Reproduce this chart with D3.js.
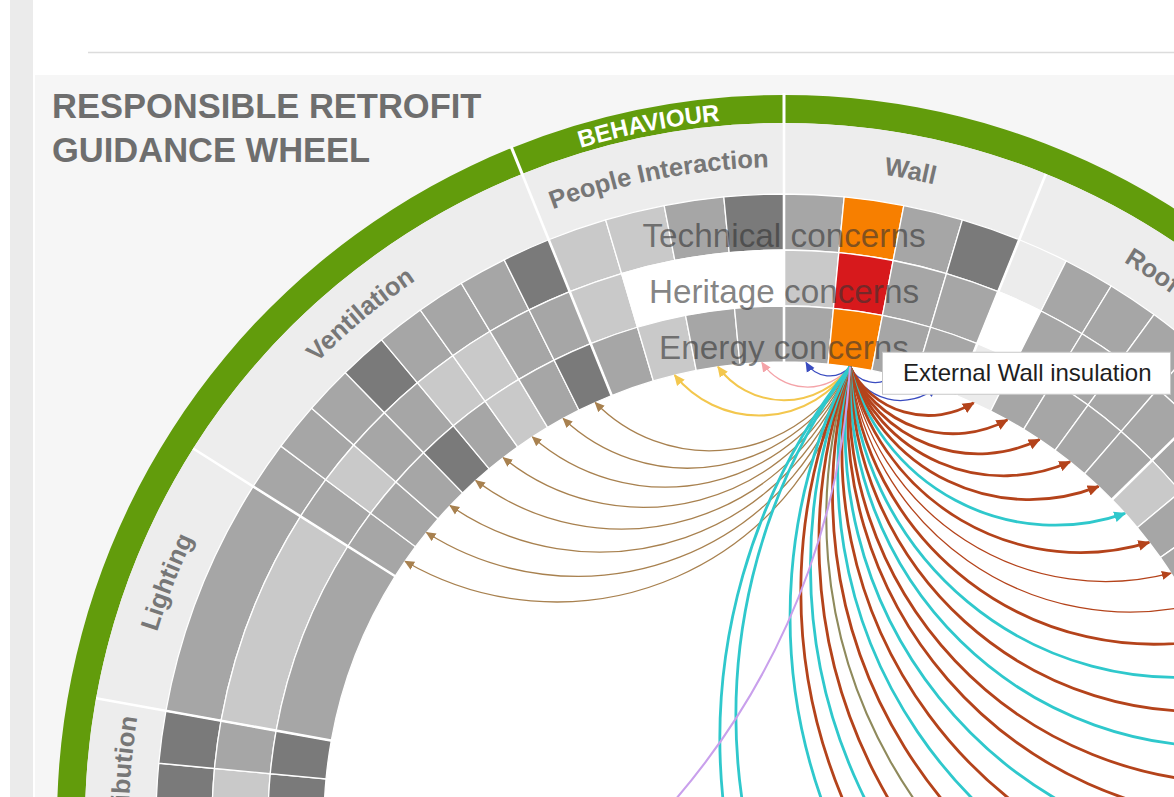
<!DOCTYPE html>
<html>
<head>
<meta charset="utf-8">
<script src="https://cdn.jsdelivr.net/npm/d3@7/dist/d3.min.js"></script>
<style>
  html, body { margin:0; padding:0; background:#fff; overflow:hidden; }
  svg { display:block; font-family: "Liberation Sans", Arial, Helvetica, sans-serif; }
</style>
</head>
<body>
<svg id="chart" width="1174" height="797"></svg>
<script>
// ---------------- data ----------------
const titleLines = ["RESPONSIBLE RETROFIT", "GUIDANCE WHEEL"];
const groupNames = ["BEHAVIOUR", "", ""];
const segmentNames = ["People Interaction","Wall","Roof","","","","","","","","","","","Distribution","Lighting","Ventilation"];
const segmentGroup = [0,1,1,1,1,1,1,1,1,1,1,2,2,2,2,2];
const segmentWeight = [22,22,23.5,23.5,23,23,23,23,23,18,23,23,17.7,14.5,22.1,35.7];
const ringNames = ["Technical concerns","Heritage concerns","Energy concerns"];

// risk level of each measure (0 none ... 4 high), measures listed clockwise inside each segment
const technicalRisk = [
  [2,2,3,4], [3,3,3,4], [1,3,3,3,3], [3,3,3,3,3], [3,3,3,3,3], [3,3,3,3,3], [3,3,3,3,3], [3,3,3,3,3],
  [3,3,3,3,3], [3,3,3,3], [3,3,3,3,3], [3,3,3,3,3], [3,3,3,3], [3,4,4], [3], [3,3,3,4,3,3,3,4]
];
const heritageRisk = [
  [2,0,0,0], [2,4,3,3], [0,3,3,3,3], [3,3,3,3,3], [3,3,3,3,3], [3,3,3,3,3], [3,3,3,3,3], [3,3,3,3,3],
  [3,3,3,3,3], [3,3,3,3], [3,3,3,3,3], [3,3,3,3,3], [3,3,3,3], [3,2,3], [2], [3,2,3,3,2,2,3,3]
];
const energyRisk = [
  [3,2,3,3], [3,3,3,3], [1,3,3,3,3], [2,3,3,3,3], [3,3,3,3,3], [3,3,3,3,3], [3,3,3,3,3], [3,3,3,3,3],
  [3,3,3,3,3], [3,3,3,3], [3,3,3,3,3], [3,3,3,3,3], [3,3,3,3], [3,4,4], [3], [3,3,3,4,3,2,3,4]
];

const selectedSegment = 1;
const selectedItem = 1;
const selectedLabel = "External Wall insulation";

// links from the selected measure
const linkSegment = [0,0,0, 1,1,1, 15,15,15,15,15,15,15,15, 2,2,2,2,2, 3,3,3,3,3, 4,4,4,4,4, 5,5,5,5,5, 6,6,6,6, 7,7, 11];
const linkItem    = [3,2,1, 0,2,3, 0,1,2,3,4,5,6,7,          0,1,2,3,4, 0,1,2,3,4, 0,1,2,3,4, 0,1,2,3,4, 0,1,2,3, 2,3, 4];
const linkType    = ["pink","yellow","yellow", "blue","blue","blue",
  "brown","brown","brown","brown","brown","brown","brown","brown",
  "rust","rust","rust","rust","rust",
  "cyan","rust","rust","rust","rust",
  "cyan","rust","cyan","rust","rust",
  "cyan","rust","cyan","rust","olive",
  "rust","cyan","rust","cyan",
  "cyan","cyan",
  "lilac"];
const linkWeight  = [1,2,2, 1,1,1, 1,1,1,1,1,1,1,1, 3,3,3,3,3, 3,3,1,1,3, 3,3,3,3,3, 3,3,3,3,2, 3,3,3,3, 3,3, 2];

// ---------------- styles ----------------
const W = 1174, H = 797;
const cx = 784, cy = 822;
const deg = Math.PI / 180;
const rInner = 460, ringEdges = [628, 572, 516, 460];
const rBandOuter = 699, rGreenOuter = 727;
const startDeg = -22;

const gray = d3.scaleOrdinal().domain([0,1,2,3,4]).range(["#ffffff","#ececec","#c9c9c9","#a6a6a6","#7a7a7a"]);
const highlight = d3.scaleOrdinal().domain([3,4]).range(["#f77f00","#d7191c"]);
const linkColor = d3.scaleOrdinal()
  .domain(["pink","yellow","blue","brown","rust","cyan","olive","lilac"])
  .range(["#f4a3a8","#f3c74e","#3a4cc0","#a8814f","#b4431b","#2fc8cc","#8f8a5c","#c9a0ec"]);
const linkWidth = d3.scaleOrdinal().domain([1,2,3]).range([1.3,2.1,2.8]);
const arrowSize = d3.scaleOrdinal().domain([1,2,3]).range([10,11,12]);
const linkBend = t => t === "lilac" ? 0.9 : (["brown","yellow","pink","blue"].includes(t) ? 0.62 : 0.68);

// ---------------- drawing ----------------
const svg = d3.select("#chart");
const defs = svg.append("defs");

svg.append("rect").attr("width", W).attr("height", H).attr("fill", "#fff");
svg.append("rect").attr("x", 10).attr("y", 0).attr("width", 23).attr("height", H).attr("fill", "#ebebeb");
svg.append("rect").attr("x", 35).attr("y", 75).attr("width", W - 35).attr("height", H - 75).attr("fill", "#f6f6f6");
svg.append("line").attr("x1", 88).attr("x2", W).attr("y1", 52.5).attr("y2", 52.5)
  .attr("stroke", "#dcdcdc").attr("stroke-width", 1.5);

// title
svg.append("text").attr("x", 52).attr("y", 118).attr("fill", "#6e6e6e")
  .style("font-size", "34.5px").style("font-weight", "bold")
  .selectAll("tspan").data(titleLines).join("tspan")
  .attr("x", 52).attr("dy", (d, i) => i ? 44 : 0).text(d => d);

const root = svg.append("g").attr("transform", `translate(${cx},${cy})`);

// angle scale
const ends = d3.cumsum(segmentWeight);
const angle = d3.scaleLinear().domain([0, d3.sum(segmentWeight)]).range([startDeg * deg, (startDeg + 360) * deg]);
const segs = segmentNames.map((name, i) => ({
  name, i, group: segmentGroup[i],
  a0: angle(ends[i] - segmentWeight[i]), a1: angle(ends[i])
}));

const items = [];
segs.forEach(s => {
  const n = technicalRisk[s.i].length;
  const sub = d3.scaleLinear().domain([0, n]).range([s.a0, s.a1]);
  for (let j = 0; j < n; j++) {
    items.push({ seg: s.i, j, a0: sub(j), a1: sub(j + 1),
      vals: [technicalRisk[s.i][j], heritageRisk[s.i][j], energyRisk[s.i][j]] });
  }
});

const arc = d3.arc();
const pt = (a, r) => [r * Math.sin(a), -r * Math.cos(a)];

// inner white disc
root.append("circle").attr("r", rInner).attr("fill", "#fff");

// green group band
const groups = groupNames.map((name, g) => {
  const ss = segs.filter(s => s.group === g);
  return { name, g, a0: d3.min(ss, s => s.a0), a1: d3.max(ss, s => s.a1) };
});
root.selectAll("path.group").data(groups).join("path").attr("class", "group")
  .attr("d", d => arc({ innerRadius: rBandOuter, outerRadius: rGreenOuter, startAngle: d.a0, endAngle: d.a1 }))
  .attr("fill", "#629c0c");

// label band
root.selectAll("path.band").data(segs).join("path").attr("class", "band")
  .attr("d", d => arc({ innerRadius: ringEdges[0], outerRadius: rBandOuter, startAngle: d.a0, endAngle: d.a1 }))
  .attr("fill", "#ededed");

// cells
const cells = [];
items.forEach(it => it.vals.forEach((v, k) => cells.push({ it, v, k })));
root.selectAll("path.cell").data(cells).join("path").attr("class", "cell")
  .attr("d", d => arc({ innerRadius: ringEdges[d.k + 1], outerRadius: ringEdges[d.k], startAngle: d.it.a0, endAngle: d.it.a1 }))
  .attr("fill", d => (d.it.seg === selectedSegment && d.it.j === selectedItem) ? highlight(d.v) : gray(d.v))
  .attr("stroke", "#fff").attr("stroke-width", 1.3);

// segment separators
root.selectAll("line.sep").data(segs).join("line").attr("class", "sep")
  .attr("x1", d => pt(d.a0, rInner - 1)[0]).attr("y1", d => pt(d.a0, rInner - 1)[1])
  .attr("x2", d => pt(d.a0, rBandOuter)[0]).attr("y2", d => pt(d.a0, rBandOuter)[1])
  .attr("stroke", "#fff").attr("stroke-width", 2.6);
root.selectAll("line.gsep").data(groups).join("line").attr("class", "gsep")
  .attr("x1", d => pt(d.a0, rBandOuter - 1)[0]).attr("y1", d => pt(d.a0, rBandOuter - 1)[1])
  .attr("x2", d => pt(d.a0, rGreenOuter + 2)[0]).attr("y2", d => pt(d.a0, rGreenOuter + 2)[1])
  .attr("stroke", "#fff").attr("stroke-width", 3);

// label paths
function arcLine(a0, a1, r) {
  const p0 = pt(a0, r), p1 = pt(a1, r);
  const large = (a1 - a0) > Math.PI ? 1 : 0;
  return `M${p0[0]},${p0[1]}A${r},${r} 0 ${large},1 ${p1[0]},${p1[1]}`;
}
segs.filter(s => s.name).forEach(s => {
  defs.append("path").attr("id", "lp" + s.i).attr("d", arcLine(s.a0, s.a1, 655));
  root.append("text").attr("fill", "#777").style("font-size", "25.5px").style("font-weight", "bold")
    .append("textPath").attr("href", "#lp" + s.i).attr("startOffset", "50%").attr("text-anchor", "middle")
    .text(s.name);
});
groups.filter(g => g.name).forEach(g => {
  defs.append("path").attr("id", "gp" + g.g).attr("d", arcLine(g.a0, g.a1, 704));
  root.append("text").attr("fill", "#fff").style("font-size", "24px").style("font-weight", "bold")
    .append("textPath").attr("href", "#gp" + g.g).attr("startOffset", "50%").attr("text-anchor", "middle")
    .text(g.name);
});

// ring overlay captions
root.selectAll("text.ring").data(ringNames).join("text").attr("class", "ring")
  .attr("x", 0)
  .attr("y", (d, k) => -(ringEdges[k] + ringEdges[k + 1]) / 2 + 25)
  .attr("text-anchor", "middle")
  .attr("fill", "#333").attr("fill-opacity", 0.6)
  .style("font-size", "33.3px").style("font-weight", "300")
  .text(d => d);

// links
const selIt = items.find(it => it.seg === selectedSegment && it.j === selectedItem);
const sa = (selIt.a0 + selIt.a1) / 2;
const S = pt(sa, rInner);
const links = linkSegment.map((s, i) => {
  const it = items.find(x => x.seg === s && x.j === linkItem[i]);
  return { i, type: linkType[i], w: linkWeight[i], ta: (it.a0 + it.a1) / 2 };
});
links.forEach(l => {
  const m = defs.append("marker").attr("id", "ar" + l.i)
    .attr("viewBox", "0 -5 10 10").attr("refX", 9).attr("refY", 0)
    .attr("markerUnits", "userSpaceOnUse")
    .attr("markerWidth", arrowSize(l.w)).attr("markerHeight", arrowSize(l.w))
    .attr("orient", "auto");
  m.append("path").attr("d", "M0,-4.5L10,0L0,4.5Z").attr("fill", linkColor(l.type));
});
function linkPath(l) {
  const T = pt(l.ta, rInner);
  const d = Math.hypot(T[0] - S[0], T[1] - S[1]);
  const r = d * linkBend(l.type);
  let diff = (l.ta - sa) % (2 * Math.PI);
  if (diff < 0) diff += 2 * Math.PI;
  const sweep = diff < Math.PI ? 0 : 1;
  return `M${S[0]},${S[1]}A${r},${r} 0 0,${sweep} ${T[0]},${T[1]}`;
}
root.selectAll("path.link").data(links).join("path").attr("class", "link")
  .attr("d", linkPath)
  .attr("fill", "none")
  .attr("stroke", d => linkColor(d.type))
  .attr("stroke-width", d => linkWidth(d.w))
  .attr("marker-end", d => `url(#ar${d.i})`);

// tooltip
const tip = root.append("g").attr("transform", `translate(${S[0] + 32},${S[1] - 15})`);
tip.append("rect").attr("x", 0.5).attr("y", 0.5).attr("width", 288).attr("height", 42)
  .attr("fill", "#fff").attr("stroke", "#c8c8c8");
tip.append("text").attr("x", 21).attr("y", 29).attr("fill", "#1e1e1e")
  .style("font-size", "24px").text(selectedLabel);
</script>
</body>
</html>
